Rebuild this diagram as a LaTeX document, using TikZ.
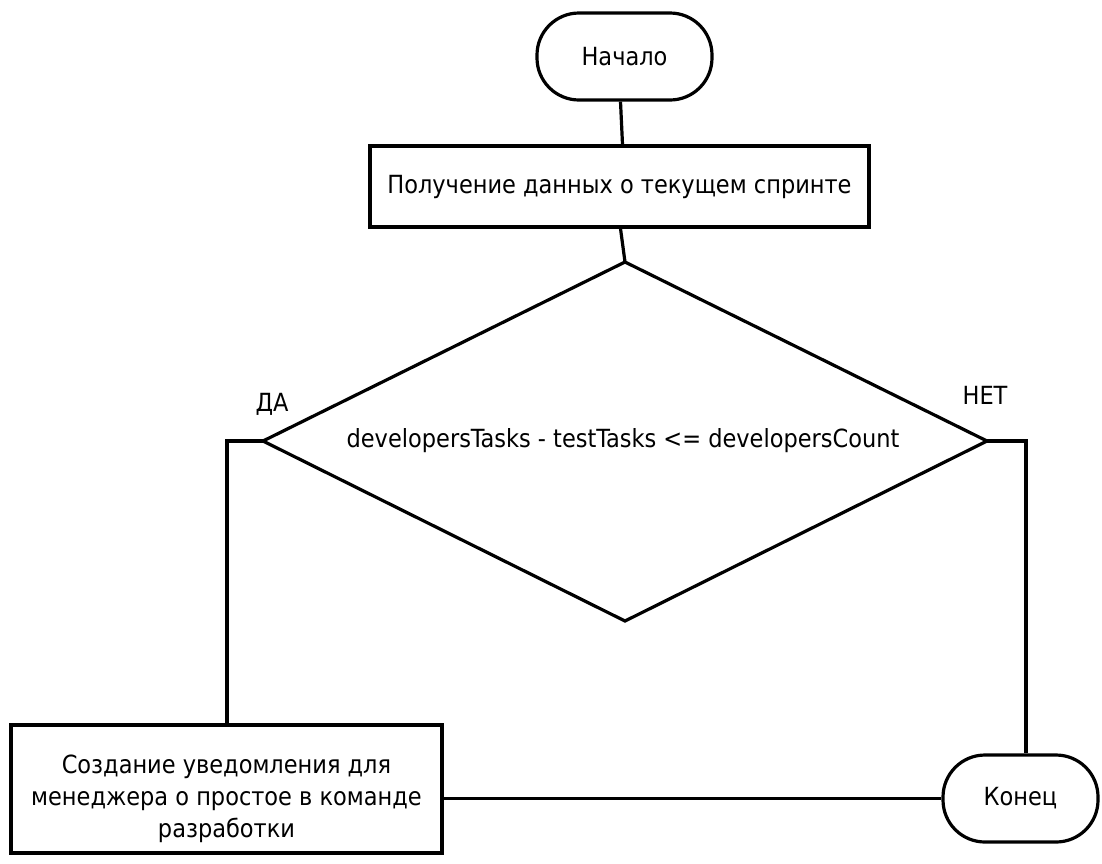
\documentclass[tikz,border=0pt]{standalone}
\usepackage{fontspec}
\setmainfont{DejaVu Sans Condensed}
\usetikzlibrary{shapes.geometric}
\begin{document}
\begin{tikzpicture}[x=1pt,y=-1pt,
  line width=3.2pt, line join=miter,
  every node/.style={font=\fontsize{25}{32}\selectfont, inner sep=0pt},
  term/.style={draw, rounded corners=42pt, minimum width=#1, minimum height=87pt},
  procbox/.style={draw, minimum width=#1},
  lbl/.style={font=\fontsize{25}{30}\selectfont}]
\useasboundingbox (0,0) rectangle (1102,863);
\node[term=175pt] (start) at (624.5,56.5) {Начало};
\node[procbox=499pt, minimum height=81pt] (proc) at (619.5,186.5) {Получение данных о текущем спринте};
\coordinate (dtop) at (625,262);
\coordinate (dleft) at (263,441);
\coordinate (dright) at (987,441);
\coordinate (dbot) at (625,621);
\draw (dtop) -- (dright) -- (dbot) -- (dleft) -- cycle;
\node (cond) at (623,441) {developersTasks - testTasks <= developersCount};
\node[procbox=431pt, minimum height=128pt] (notify) at (226.5,789) {};
\node[align=center] (notifytxt) at (226.5,799)
  {Создание уведомления для\\менеджера о простое в команде\\разработки};
\node[term=155pt] (end) at (1020.5,798.5) {Конец};
\node[lbl] (yes) at (272,404) {ДА};
\node[lbl] (no) at (985,395) {НЕТ};
\coordinate (lc) at (227,441);
\coordinate (rc) at (1026,441);
\draw ([xshift=-4pt]start.south) -- ([xshift=3pt]proc.north);
\draw ([xshift=1pt]proc.south) -- (dtop);
\draw (dleft) -- (lc) -- (notify.north -| lc);
\draw (dright) -- (rc) -- (end.north -| rc);
\draw (notify.east |- end.west) -- (end.west);
\end{tikzpicture}
\end{document}
